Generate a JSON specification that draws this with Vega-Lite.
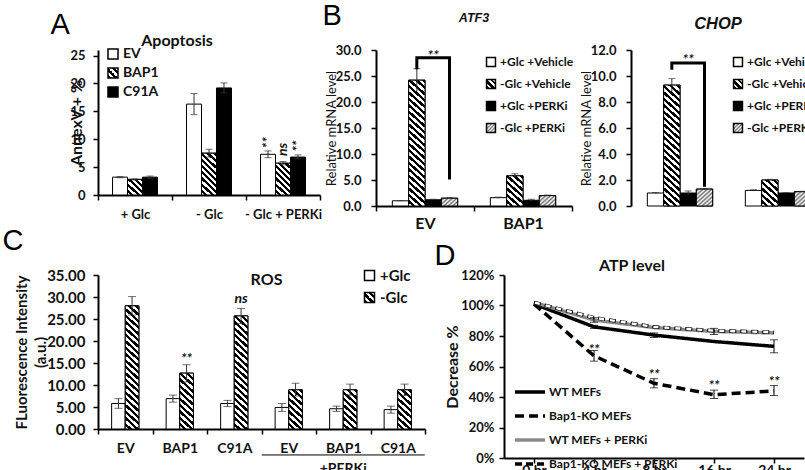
{
"$schema": "https://vega.github.io/schema/vega-lite/v6.json",
"background": "white",
"padding": {"left": 2, "top": 1, "right": 0, "bottom": 0},
"params": [
{"name": "hatch1", "value": [{"offset":0,"color":"#fff"},{"offset":0.02,"color":"#fff"},{"offset":0.02,"color":"#000"},{"offset":0.04,"color":"#000"},{"offset":0.04,"color":"#fff"},{"offset":0.06,"color":"#fff"},{"offset":0.06,"color":"#000"},{"offset":0.08,"color":"#000"},{"offset":0.08,"color":"#fff"},{"offset":0.1,"color":"#fff"},{"offset":0.1,"color":"#000"},{"offset":0.12,"color":"#000"},{"offset":0.12,"color":"#fff"},{"offset":0.14,"color":"#fff"},{"offset":0.14,"color":"#000"},{"offset":0.16,"color":"#000"},{"offset":0.16,"color":"#fff"},{"offset":0.18,"color":"#fff"},{"offset":0.18,"color":"#000"},{"offset":0.2,"color":"#000"},{"offset":0.2,"color":"#fff"},{"offset":0.22,"color":"#fff"},{"offset":0.22,"color":"#000"},{"offset":0.24,"color":"#000"},{"offset":0.24,"color":"#fff"},{"offset":0.26,"color":"#fff"},{"offset":0.26,"color":"#000"},{"offset":0.28,"color":"#000"},{"offset":0.28,"color":"#fff"},{"offset":0.3,"color":"#fff"},{"offset":0.3,"color":"#000"},{"offset":0.32,"color":"#000"},{"offset":0.32,"color":"#fff"},{"offset":0.34,"color":"#fff"},{"offset":0.34,"color":"#000"},{"offset":0.36,"color":"#000"},{"offset":0.36,"color":"#fff"},{"offset":0.38,"color":"#fff"},{"offset":0.38,"color":"#000"},{"offset":0.4,"color":"#000"},{"offset":0.4,"color":"#fff"},{"offset":0.42,"color":"#fff"},{"offset":0.42,"color":"#000"},{"offset":0.44,"color":"#000"},{"offset":0.44,"color":"#fff"},{"offset":0.46,"color":"#fff"},{"offset":0.46,"color":"#000"},{"offset":0.48,"color":"#000"},{"offset":0.48,"color":"#fff"},{"offset":0.5,"color":"#fff"},{"offset":0.5,"color":"#000"},{"offset":0.52,"color":"#000"},{"offset":0.52,"color":"#fff"},{"offset":0.54,"color":"#fff"},{"offset":0.54,"color":"#000"},{"offset":0.56,"color":"#000"},{"offset":0.56,"color":"#fff"},{"offset":0.58,"color":"#fff"},{"offset":0.58,"color":"#000"},{"offset":0.6,"color":"#000"},{"offset":0.6,"color":"#fff"},{"offset":0.62,"color":"#fff"},{"offset":0.62,"color":"#000"},{"offset":0.64,"color":"#000"},{"offset":0.64,"color":"#fff"},{"offset":0.66,"color":"#fff"},{"offset":0.66,"color":"#000"},{"offset":0.68,"color":"#000"},{"offset":0.68,"color":"#fff"},{"offset":0.7,"color":"#fff"},{"offset":0.7,"color":"#000"},{"offset":0.72,"color":"#000"},{"offset":0.72,"color":"#fff"},{"offset":0.74,"color":"#fff"},{"offset":0.74,"color":"#000"},{"offset":0.76,"color":"#000"},{"offset":0.76,"color":"#fff"},{"offset":0.78,"color":"#fff"},{"offset":0.78,"color":"#000"},{"offset":0.8,"color":"#000"},{"offset":0.8,"color":"#fff"},{"offset":0.82,"color":"#fff"},{"offset":0.82,"color":"#000"},{"offset":0.84,"color":"#000"},{"offset":0.84,"color":"#fff"},{"offset":0.86,"color":"#fff"},{"offset":0.86,"color":"#000"},{"offset":0.88,"color":"#000"},{"offset":0.88,"color":"#fff"},{"offset":0.9,"color":"#fff"},{"offset":0.9,"color":"#000"},{"offset":0.92,"color":"#000"},{"offset":0.92,"color":"#fff"},{"offset":0.94,"color":"#fff"},{"offset":0.94,"color":"#000"},{"offset":0.96,"color":"#000"},{"offset":0.96,"color":"#fff"},{"offset":0.98,"color":"#fff"},{"offset":0.98,"color":"#000"},{"offset":1,"color":"#000"}]},
{"name": "hatch2", "value": [{"offset":0,"color":"#fff"},{"offset":0.0125,"color":"#6e6e6e"},{"offset":0.025,"color":"#fff"},{"offset":0.0375,"color":"#6e6e6e"},{"offset":0.05,"color":"#fff"},{"offset":0.0625,"color":"#6e6e6e"},{"offset":0.075,"color":"#fff"},{"offset":0.0875,"color":"#6e6e6e"},{"offset":0.1,"color":"#fff"},{"offset":0.1125,"color":"#6e6e6e"},{"offset":0.125,"color":"#fff"},{"offset":0.1375,"color":"#6e6e6e"},{"offset":0.15,"color":"#fff"},{"offset":0.1625,"color":"#6e6e6e"},{"offset":0.175,"color":"#fff"},{"offset":0.1875,"color":"#6e6e6e"},{"offset":0.2,"color":"#fff"},{"offset":0.2125,"color":"#6e6e6e"},{"offset":0.225,"color":"#fff"},{"offset":0.2375,"color":"#6e6e6e"},{"offset":0.25,"color":"#fff"}]},
{"name": "lg1", "value": [{"offset":0,"color":"#000"},{"offset":0.17,"color":"#000"},{"offset":0.17,"color":"#fff"},{"offset":0.33,"color":"#fff"},{"offset":0.33,"color":"#000"},{"offset":0.5,"color":"#000"},{"offset":0.5,"color":"#fff"},{"offset":0.67,"color":"#fff"},{"offset":0.67,"color":"#000"},{"offset":0.83,"color":"#000"},{"offset":0.83,"color":"#fff"},{"offset":1,"color":"#fff"}]},
{"name": "lg2", "value": [{"offset":0,"color":"#fff"},{"offset":0.1,"color":"#777"},{"offset":0.2,"color":"#fff"},{"offset":0.3,"color":"#777"},{"offset":0.4,"color":"#fff"},{"offset":0.5,"color":"#777"},{"offset":0.6,"color":"#fff"},{"offset":0.7,"color":"#777"},{"offset":0.8,"color":"#fff"},{"offset":0.9,"color":"#777"},{"offset":1,"color":"#fff"}]}
],
"datasets": {
"apop": [
{"cond":"+ Glc","s":"EV","v":3.2,"lo":3.1,"hi":3.3},
{"cond":"+ Glc","s":"BAP1","v":2.8,"lo":2.7,"hi":2.9},
{"cond":"+ Glc","s":"C91A","v":3.2,"lo":3.0,"hi":3.4},
{"cond":"- Glc","s":"EV","v":16.3,"lo":14.4,"hi":18.2},
{"cond":"- Glc","s":"BAP1","v":7.5,"lo":6.8,"hi":8.2},
{"cond":"- Glc","s":"C91A","v":19.2,"lo":18.3,"hi":20.1},
{"cond":"- Glc + PERKi","s":"EV","v":7.3,"lo":6.7,"hi":7.9},
{"cond":"- Glc + PERKi","s":"BAP1","v":5.7,"lo":5.4,"hi":6.0},
{"cond":"- Glc + PERKi","s":"C91A","v":6.8,"lo":6.5,"hi":7.2}
],
"apopSig": [
{"cond":"- Glc + PERKi","s":"EV","y":8.4,"t":"**"},
{"cond":"- Glc + PERKi","s":"BAP1","y":7.0,"t":"ns"},
{"cond":"- Glc + PERKi","s":"C91A","y":7.8,"t":"**"}
],
"atf3": [
{"g":"EV","s":"+Glc +Vehicle","v":1.0,"lo":0.95,"hi":1.05},
{"g":"EV","s":"-Glc +Vehicle","v":24.2,"lo":22.0,"hi":26.4},
{"g":"EV","s":"+Glc +PERKi","v":1.2,"lo":1.1,"hi":1.3},
{"g":"EV","s":"-Glc +PERKi","v":1.5,"lo":1.4,"hi":1.6},
{"g":"BAP1","s":"+Glc +Vehicle","v":1.6,"lo":1.5,"hi":1.7},
{"g":"BAP1","s":"-Glc +Vehicle","v":5.8,"lo":5.4,"hi":6.2},
{"g":"BAP1","s":"+Glc +PERKi","v":1.1,"lo":0.9,"hi":1.3},
{"g":"BAP1","s":"-Glc +PERKi","v":2.0,"lo":1.9,"hi":2.1}
],
"atf3Br": [
{"g":"EV","s":"-Glc +Vehicle","y":26.6,"o":1},
{"g":"EV","s":"-Glc +Vehicle","y":28.5,"o":2},
{"g":"EV","s":"-Glc +PERKi","y":28.5,"o":3},
{"g":"EV","s":"-Glc +PERKi","y":5.4,"o":4}
],
"atf3Sig": [{"g":"EV","s":"+Glc +PERKi","y":28.9,"t":"**"}],
"chop": [
{"g":"EV","s":"+Glc +Vehicle","v":1.0,"lo":0.97,"hi":1.03},
{"g":"EV","s":"-Glc +Vehicle","v":9.3,"lo":8.8,"hi":9.8},
{"g":"EV","s":"+Glc +PERKi","v":1.0,"lo":0.85,"hi":1.15},
{"g":"EV","s":"-Glc +PERKi","v":1.3,"lo":1.25,"hi":1.35},
{"g":"BAP1","s":"+Glc +Vehicle","v":1.2,"lo":1.15,"hi":1.25},
{"g":"BAP1","s":"-Glc +Vehicle","v":2.0,"lo":1.95,"hi":2.05},
{"g":"BAP1","s":"+Glc +PERKi","v":1.0,"lo":0.97,"hi":1.03},
{"g":"BAP1","s":"-Glc +PERKi","v":1.1,"lo":1.07,"hi":1.13}
],
"chopBr": [
{"g":"EV","s":"-Glc +Vehicle","y":10.6,"o":1},
{"g":"EV","s":"-Glc +Vehicle","y":11.0,"o":2},
{"g":"EV","s":"-Glc +PERKi","y":11.0,"o":3},
{"g":"EV","s":"-Glc +PERKi","y":1.6,"o":4}
],
"chopSig": [{"g":"EV","s":"+Glc +PERKi","y":11.2,"t":"**"}],
"ros": [
{"grp":"EV","s":"+Glc","v":5.8,"lo":4.7,"hi":6.9},
{"grp":"EV","s":"-Glc","v":28.0,"lo":25.9,"hi":30.1},
{"grp":"BAP1","s":"+Glc","v":6.9,"lo":6.1,"hi":7.7},
{"grp":"BAP1","s":"-Glc","v":12.7,"lo":10.7,"hi":14.6},
{"grp":"C91A","s":"+Glc","v":5.8,"lo":5.1,"hi":6.5},
{"grp":"C91A","s":"-Glc","v":25.7,"lo":24.0,"hi":27.4},
{"grp":"EV+P","s":"+Glc","v":4.9,"lo":4.0,"hi":5.8},
{"grp":"EV+P","s":"-Glc","v":8.9,"lo":7.5,"hi":10.4},
{"grp":"BAP1+P","s":"+Glc","v":4.6,"lo":4.0,"hi":5.2},
{"grp":"BAP1+P","s":"-Glc","v":8.9,"lo":7.7,"hi":10.2},
{"grp":"C91A+P","s":"+Glc","v":4.4,"lo":3.6,"hi":5.2},
{"grp":"C91A+P","s":"-Glc","v":8.9,"lo":7.6,"hi":10.2}
],
"rosSig": [
{"grp":"BAP1","s":"-Glc","y":15.9,"t":"**"},
{"grp":"C91A","s":"-Glc","y":29.5,"t":"ns"}
],
"atp": [
{"h":0,"series":"WT MEFs","v":1.01},
{"h":4,"series":"WT MEFs","v":0.86,"lo":0.85,"hi":0.87},
{"h":8,"series":"WT MEFs","v":0.806,"lo":0.79,"hi":0.82},
{"h":16,"series":"WT MEFs","v":0.764},
{"h":24,"series":"WT MEFs","v":0.732,"lo":0.69,"hi":0.775},
{"h":0,"series":"Bap1-KO MEFs","v":1.01},
{"h":4,"series":"Bap1-KO MEFs","v":0.67,"lo":0.635,"hi":0.705},
{"h":8,"series":"Bap1-KO MEFs","v":0.49,"lo":0.46,"hi":0.52},
{"h":16,"series":"Bap1-KO MEFs","v":0.415,"lo":0.39,"hi":0.445},
{"h":24,"series":"Bap1-KO MEFs","v":0.44,"lo":0.41,"hi":0.475},
{"h":0,"series":"WT MEFs + PERKi","v":1.02},
{"h":4,"series":"WT MEFs + PERKi","v":0.905,"lo":0.89,"hi":0.92},
{"h":8,"series":"WT MEFs + PERKi","v":0.855},
{"h":16,"series":"WT MEFs + PERKi","v":0.83,"lo":0.81,"hi":0.85},
{"h":24,"series":"WT MEFs + PERKi","v":0.82},
{"h":0,"series":"Bap1-KO MEFs + PERKi","v":1.02},
{"h":4,"series":"Bap1-KO MEFs + PERKi","v":0.92},
{"h":8,"series":"Bap1-KO MEFs + PERKi","v":0.86},
{"h":16,"series":"Bap1-KO MEFs + PERKi","v":0.835},
{"h":24,"series":"Bap1-KO MEFs + PERKi","v":0.825}
],
"atpSig": [
{"h":4,"y":0.711,"t":"**"},
{"h":8,"y":0.546,"t":"**"},
{"h":16,"y":0.47,"t":"**"},
{"h":24,"y":0.50,"t":"**"}
]
},
"config": {
"view": {"stroke": null},
"font": "Lato",
"axis": {"domainColor": "#000", "domainWidth": 2, "tickColor": "#000", "tickWidth": 1.5, "tickSize": 5, "labelFont": "Lato", "labelFontWeight": "bold", "labelColor": "#111", "labelFontSize": 13, "titleFont": "Lato", "titleFontWeight": "bold", "titleColor": "#111", "grid": false, "labelPadding": 8, "labelOverlap": false},
"legend": {"labelFont": "Lato", "labelFontWeight": "bold", "labelColor": "#111", "padding": 0},
"title": {"font": "Lato", "fontWeight": "bold", "color": "#111"}
},
"columns": 1,
"align": "none",
"spacing": -5,
"resolve": {"scale": {"x": "independent", "y": "independent", "xOffset": "independent", "fill": "independent", "stroke": "independent", "strokeDash": "independent", "strokeWidth": "independent"}, "legend": {"fill": "independent", "stroke": "independent", "strokeDash": "independent", "strokeWidth": "independent"}},
"concat": [
{"spacing": 0,
"resolve": {"scale": {"x": "independent", "y": "independent", "xOffset": "independent", "fill": "independent", "stroke": "independent"}, "legend": {"fill": "independent", "stroke": "independent"}},
"hconcat": [
{
"width": 222, "height": 145,
"title": {"text": "Apoptosis", "frame": "group", "anchor": "middle", "dx": -32, "offset": -52, "fontSize": 16, "baseline": "alphabetic"},
"data": {"name": "apop"},
"layer": [
{"mark": {"type": "bar", "strokeWidth": 1},
 "encoding": {
  "x": {"field": "cond", "type": "nominal", "sort": ["+ Glc", "- Glc", "- Glc + PERKi"], "scale": {"paddingInner": 0, "paddingOuter": 0}, "axis": {"title": null, "labelAngle": 0, "tickBand": "extent", "labelFontSize": 13, "labelPadding": 8}},
  "xOffset": {"field": "s", "type": "nominal", "sort": ["EV", "BAP1", "C91A"], "scale": {"paddingInner": 0, "paddingOuter": 0.97}},
  "y": {"field": "v", "type": "quantitative", "scale": {"domain": [0, 25]}, "axis": {"title": "AnnexV + %", "values": [0, 5, 10, 15, 20, 25], "titleFontSize": 16, "titlePadding": -15}},
  "fill": {"field": "s", "type": "nominal", "scale": {"domain": ["EV", "BAP1", "C91A"], "range": ["#fff", {"expr": "{gradient:'linear',x1:0,y1:1,x2:1,y2:0,stops:lg1}"}, "#000"]},
   "legend": {"title": null, "orient": "none", "legendX": 8, "legendY": -3, "symbolType": "square", "symbolSize": 100, "labelFontSize": 14, "rowPadding": 3, "labelOffset": 3}},
  "stroke": {"field": "s", "type": "nominal", "scale": {"domain": ["EV", "BAP1", "C91A"], "range": ["#000", "#000", "#000"]},
   "legend": {"title": null, "orient": "none", "legendX": 8, "legendY": -3, "symbolType": "square", "symbolSize": 100, "labelFontSize": 14, "rowPadding": 3, "labelOffset": 3}}
 }},
{"transform": [{"filter": "datum.s == 'BAP1'"}],
 "mark": {"type": "bar", "stroke": "#000", "strokeWidth": 1, "fill": {"expr": "{gradient:'linear',x1:0,y1:1,x2:2400/(225+pow(datum.v*5.8,2)),y2:1-928*datum.v/(225+pow(datum.v*5.8,2)),stops:hatch1}"}},
 "encoding": {
  "x": {"field": "cond", "type": "nominal", "sort": ["+ Glc", "- Glc", "- Glc + PERKi"], "axis": null},
  "xOffset": {"field": "s", "type": "nominal", "sort": ["EV", "BAP1", "C91A"]},
  "y": {"field": "v", "type": "quantitative", "axis": {"title": "AnnexV + %", "values": [0, 5, 10, 15, 20, 25], "titleFontSize": 16, "titlePadding": -15}}
 }},
{"mark": {"type": "rule", "color": "#333", "strokeWidth": 1},
 "encoding": {
  "x": {"field": "cond", "type": "nominal", "sort": ["+ Glc", "- Glc", "- Glc + PERKi"], "axis": {"orient": "top", "title": "A", "labels": false, "ticks": false, "domain": false, "grid": false, "titleFont": "Liberation Sans", "titleFontSize": 29, "titleFontWeight": "normal", "titleColor": "#000", "titleAngle": 0, "titleAlign": "left", "titleBaseline": "alphabetic", "titleX": -48, "titleY": -17}},
  "xOffset": {"field": "s", "type": "nominal", "sort": ["EV", "BAP1", "C91A"]},
  "y": {"field": "lo", "type": "quantitative", "axis": {"title": "AnnexV + %", "values": [0, 5, 10, 15, 20, 25], "titleFontSize": 16, "titlePadding": -15}}, "y2": {"field": "hi"}
 }},
{"mark": {"type": "tick", "color": "#333", "thickness": 1, "size": 7},
 "encoding": {
  "x": {"field": "cond", "type": "nominal", "sort": ["+ Glc", "- Glc", "- Glc + PERKi"], "axis": null},
  "xOffset": {"field": "s", "type": "nominal", "sort": ["EV", "BAP1", "C91A"]},
  "y": {"field": "hi", "type": "quantitative", "axis": {"title": "AnnexV + %", "values": [0, 5, 10, 15, 20, 25], "titleFontSize": 16, "titlePadding": -15}}
 }},
{"mark": {"type": "tick", "color": "#333", "thickness": 1, "size": 7},
 "encoding": {
  "x": {"field": "cond", "type": "nominal", "sort": ["+ Glc", "- Glc", "- Glc + PERKi"], "axis": null},
  "xOffset": {"field": "s", "type": "nominal", "sort": ["EV", "BAP1", "C91A"]},
  "y": {"field": "lo", "type": "quantitative", "axis": {"title": "AnnexV + %", "values": [0, 5, 10, 15, 20, 25], "titleFontSize": 16, "titlePadding": -15}}
 }},
{"data": {"name": "apopSig"},
 "mark": {"type": "text", "angle": 270, "align": "left", "baseline": "middle", "fontStyle": "italic", "fontSize": 14, "font": "Lato", "fontWeight": "bold", "color": "#111"},
 "encoding": {
  "x": {"field": "cond", "type": "nominal", "sort": ["+ Glc", "- Glc", "- Glc + PERKi"], "axis": null},
  "xOffset": {"field": "s", "type": "nominal", "sort": ["EV", "BAP1", "C91A"]},
  "y": {"field": "y", "type": "quantitative", "axis": {"title": "AnnexV + %", "values": [0, 5, 10, 15, 20, 25], "titleFontSize": 16, "titlePadding": -15}},
  "text": {"field": "t"}
 }}
],
"resolve": {"axis": {"x": "independent"}}
},
{"spacing": 6,
"resolve": {"scale": {"x": "independent", "y": "independent", "xOffset": "independent", "fill": "independent", "stroke": "independent"}, "legend": {"fill": "independent", "stroke": "independent"}},
"hconcat": [
{
"width": 196, "height": 156,
"title": {"text": "ATF3", "frame": "group", "anchor": "middle", "dx": 0, "offset": -33, "fontSize": 12.5, "font": "Liberation Sans", "fontStyle": "italic", "baseline": "alphabetic"},
"data": {"name": "atf3"},
"layer": [
{"mark": {"type": "bar", "strokeWidth": 1},
 "encoding": {
  "x": {"field": "g", "type": "nominal", "sort": ["EV", "BAP1"], "scale": {"paddingInner": 0, "paddingOuter": 0}, "axis": {"title": null, "labelAngle": 0, "tickBand": "extent", "labelFontSize": 16, "labelPadding": 4}},
  "xOffset": {"field": "s", "type": "nominal", "sort": ["+Glc +Vehicle", "-Glc +Vehicle", "+Glc +PERKi", "-Glc +PERKi"], "scale": {"paddingInner": 0, "paddingOuter": 1.33}},
  "y": {"field": "v", "type": "quantitative", "scale": {"domain": [0, 30]}, "axis": {"title": "Relative mRNA level", "values": [0, 5, 10, 15, 20, 25, 30], "format": ".1f", "titleFontSize": 13, "titleFontWeight": "normal", "titlePadding": -3, "labelPadding": 10}},
  "fill": {"field": "s", "type": "nominal", "scale": {"domain": ["+Glc +Vehicle", "-Glc +Vehicle", "+Glc +PERKi", "-Glc +PERKi"], "range": ["#fff", {"expr": "{gradient:'linear',x1:0,y1:1,x2:1,y2:0,stops:lg1}"}, "#000", {"expr": "{gradient:'linear',x1:0,y1:0,x2:1,y2:1,stops:lg2}"}]},
   "legend": {"title": null, "orient": "none", "legendX": 109, "legendY": 6, "symbolType": "square", "symbolSize": 80, "labelFontSize": 12, "rowPadding": 6, "labelOffset": 3}},
  "stroke": {"field": "s", "type": "nominal", "scale": {"domain": ["+Glc +Vehicle", "-Glc +Vehicle", "+Glc +PERKi", "-Glc +PERKi"], "range": ["#000", "#000", "#000", "#000"]},
   "legend": {"title": null, "orient": "none", "legendX": 109, "legendY": 6, "symbolType": "square", "symbolSize": 80, "labelFontSize": 12, "rowPadding": 6, "labelOffset": 3}}
 }},
{"transform": [{"filter": "datum.s == '-Glc +Vehicle' || datum.s == '-Glc +PERKi'"}],
 "mark": {"type": "bar", "stroke": "#000", "strokeWidth": 1, "fill": {"expr": "datum.s == '-Glc +Vehicle' ? {gradient:'linear',x1:0,y1:1,x2:2352/(216+pow(datum.v*5.2,2)),y2:1-832*datum.v/(216+pow(datum.v*5.2,2)),stops:hatch1} : {gradient:'linear',x1:0,y1:0,x2:2352/(216+pow(datum.v*5.2,2)),y2:832*datum.v/(216+pow(datum.v*5.2,2)),stops:hatch2}"}},
 "encoding": {
  "x": {"field": "g", "type": "nominal", "sort": ["EV", "BAP1"], "axis": null},
  "xOffset": {"field": "s", "type": "nominal", "sort": ["+Glc +Vehicle", "-Glc +Vehicle", "+Glc +PERKi", "-Glc +PERKi"]},
  "y": {"field": "v", "type": "quantitative", "axis": {"title": "Relative mRNA level", "values": [0, 5, 10, 15, 20, 25, 30], "format": ".1f", "titleFontSize": 13, "titleFontWeight": "normal", "titlePadding": -3, "labelPadding": 10}}
 }},
{"mark": {"type": "rule", "color": "#333", "strokeWidth": 1},
 "encoding": {
  "x": {"field": "g", "type": "nominal", "sort": ["EV", "BAP1"], "axis": {"orient": "top", "title": "B", "labels": false, "ticks": false, "domain": false, "grid": false, "titleFont": "Liberation Sans", "titleFontSize": 29, "titleFontWeight": "normal", "titleColor": "#000", "titleAngle": 0, "titleAlign": "left", "titleBaseline": "alphabetic", "titleX": -54, "titleY": -26}},
  "xOffset": {"field": "s", "type": "nominal", "sort": ["+Glc +Vehicle", "-Glc +Vehicle", "+Glc +PERKi", "-Glc +PERKi"]},
  "y": {"field": "lo", "type": "quantitative", "axis": {"title": "Relative mRNA level", "values": [0, 5, 10, 15, 20, 25, 30], "format": ".1f", "titleFontSize": 13, "titleFontWeight": "normal", "titlePadding": -3, "labelPadding": 10}}, "y2": {"field": "hi"}
 }},
{"mark": {"type": "tick", "color": "#333", "thickness": 1, "size": 7},
 "encoding": {
  "x": {"field": "g", "type": "nominal", "sort": ["EV", "BAP1"], "axis": null},
  "xOffset": {"field": "s", "type": "nominal", "sort": ["+Glc +Vehicle", "-Glc +Vehicle", "+Glc +PERKi", "-Glc +PERKi"]},
  "y": {"field": "hi", "type": "quantitative", "axis": {"title": "Relative mRNA level", "values": [0, 5, 10, 15, 20, 25, 30], "format": ".1f", "titleFontSize": 13, "titleFontWeight": "normal", "titlePadding": -3, "labelPadding": 10}}
 }},
{"data": {"name": "atf3Br"},
 "mark": {"type": "line", "color": "#000", "strokeWidth": 3, "strokeCap": "square"},
 "encoding": {
  "x": {"field": "g", "type": "nominal", "sort": ["EV", "BAP1"], "axis": null},
  "xOffset": {"field": "s", "type": "nominal", "sort": ["+Glc +Vehicle", "-Glc +Vehicle", "+Glc +PERKi", "-Glc +PERKi"]},
  "y": {"field": "y", "type": "quantitative", "axis": {"title": "Relative mRNA level", "values": [0, 5, 10, 15, 20, 25, 30], "format": ".1f", "titleFontSize": 13, "titleFontWeight": "normal", "titlePadding": -3, "labelPadding": 10}},
  "order": {"field": "o"}
 }},
{"data": {"name": "atf3Sig"},
 "mark": {"type": "text", "baseline": "middle", "fontStyle": "italic", "fontSize": 14, "font": "Lato", "fontWeight": "bold", "color": "#111"},
 "encoding": {
  "x": {"field": "g", "type": "nominal", "sort": ["EV", "BAP1"], "axis": null},
  "xOffset": {"field": "s", "type": "nominal", "sort": ["+Glc +Vehicle", "-Glc +Vehicle", "+Glc +PERKi", "-Glc +PERKi"]},
  "y": {"field": "y", "type": "quantitative", "axis": {"title": "Relative mRNA level", "values": [0, 5, 10, 15, 20, 25, 30], "format": ".1f", "titleFontSize": 13, "titleFontWeight": "normal", "titlePadding": -3, "labelPadding": 10}},
  "text": {"field": "t"}
 }}
],
"resolve": {"axis": {"x": "independent"}}
},
{
"width": 196, "height": 156,
"title": {"text": "CHOP", "frame": "group", "anchor": "middle", "dx": -11, "offset": -1, "fontSize": 16.5, "font": "Liberation Sans", "fontStyle": "italic", "baseline": "alphabetic"},
"data": {"name": "chop"},
"layer": [
{"mark": {"type": "bar", "strokeWidth": 1},
 "encoding": {
  "x": {"field": "g", "type": "nominal", "sort": ["EV", "BAP1"], "scale": {"paddingInner": 0, "paddingOuter": 0}, "axis": {"title": null, "labelAngle": 0, "tickBand": "extent", "labelFontSize": 16, "labelPadding": 4}},
  "xOffset": {"field": "s", "type": "nominal", "sort": ["+Glc +Vehicle", "-Glc +Vehicle", "+Glc +PERKi", "-Glc +PERKi"], "scale": {"paddingInner": 0, "paddingOuter": 1.33}},
  "y": {"field": "v", "type": "quantitative", "scale": {"domain": [0, 12]}, "axis": {"title": "Relative mRNA level", "values": [0, 2, 4, 6, 8, 10, 12], "format": ".1f", "titleFontSize": 13, "titleFontWeight": "normal", "titlePadding": -3, "labelPadding": 10}},
  "fill": {"field": "s", "type": "nominal", "scale": {"domain": ["+Glc +Vehicle", "-Glc +Vehicle", "+Glc +PERKi", "-Glc +PERKi"], "range": ["#fff", {"expr": "{gradient:'linear',x1:0,y1:1,x2:1,y2:0,stops:lg1}"}, "#000", {"expr": "{gradient:'linear',x1:0,y1:0,x2:1,y2:1,stops:lg2}"}]},
   "legend": {"title": null, "orient": "none", "legendX": 101, "legendY": 6, "symbolType": "square", "symbolSize": 80, "labelFontSize": 12, "rowPadding": 6, "labelOffset": 3}},
  "stroke": {"field": "s", "type": "nominal", "scale": {"domain": ["+Glc +Vehicle", "-Glc +Vehicle", "+Glc +PERKi", "-Glc +PERKi"], "range": ["#000", "#000", "#000", "#000"]},
   "legend": {"title": null, "orient": "none", "legendX": 101, "legendY": 6, "symbolType": "square", "symbolSize": 80, "labelFontSize": 12, "rowPadding": 6, "labelOffset": 3}}
 }},
{"transform": [{"filter": "datum.s == '-Glc +Vehicle' || datum.s == '-Glc +PERKi'"}],
 "mark": {"type": "bar", "stroke": "#000", "strokeWidth": 1, "fill": {"expr": "datum.s == '-Glc +Vehicle' ? {gradient:'linear',x1:0,y1:1,x2:2352/(216+pow(datum.v*13,2)),y2:1-2080*datum.v/(216+pow(datum.v*13,2)),stops:hatch1} : {gradient:'linear',x1:0,y1:0,x2:2352/(216+pow(datum.v*13,2)),y2:2080*datum.v/(216+pow(datum.v*13,2)),stops:hatch2}"}},
 "encoding": {
  "x": {"field": "g", "type": "nominal", "sort": ["EV", "BAP1"], "axis": null},
  "xOffset": {"field": "s", "type": "nominal", "sort": ["+Glc +Vehicle", "-Glc +Vehicle", "+Glc +PERKi", "-Glc +PERKi"]},
  "y": {"field": "v", "type": "quantitative", "axis": {"title": "Relative mRNA level", "values": [0, 2, 4, 6, 8, 10, 12], "format": ".1f", "titleFontSize": 13, "titleFontWeight": "normal", "titlePadding": -3, "labelPadding": 10}}
 }},
{"mark": {"type": "rule", "color": "#333", "strokeWidth": 1},
 "encoding": {
  "x": {"field": "g", "type": "nominal", "sort": ["EV", "BAP1"], "axis": null},
  "xOffset": {"field": "s", "type": "nominal", "sort": ["+Glc +Vehicle", "-Glc +Vehicle", "+Glc +PERKi", "-Glc +PERKi"]},
  "y": {"field": "lo", "type": "quantitative", "axis": {"title": "Relative mRNA level", "values": [0, 2, 4, 6, 8, 10, 12], "format": ".1f", "titleFontSize": 13, "titleFontWeight": "normal", "titlePadding": -3, "labelPadding": 10}}, "y2": {"field": "hi"}
 }},
{"mark": {"type": "tick", "color": "#333", "thickness": 1, "size": 7},
 "encoding": {
  "x": {"field": "g", "type": "nominal", "sort": ["EV", "BAP1"], "axis": null},
  "xOffset": {"field": "s", "type": "nominal", "sort": ["+Glc +Vehicle", "-Glc +Vehicle", "+Glc +PERKi", "-Glc +PERKi"]},
  "y": {"field": "hi", "type": "quantitative", "axis": {"title": "Relative mRNA level", "values": [0, 2, 4, 6, 8, 10, 12], "format": ".1f", "titleFontSize": 13, "titleFontWeight": "normal", "titlePadding": -3, "labelPadding": 10}}
 }},
{"data": {"name": "chopBr"},
 "mark": {"type": "line", "color": "#000", "strokeWidth": 3, "strokeCap": "square"},
 "encoding": {
  "x": {"field": "g", "type": "nominal", "sort": ["EV", "BAP1"], "axis": null},
  "xOffset": {"field": "s", "type": "nominal", "sort": ["+Glc +Vehicle", "-Glc +Vehicle", "+Glc +PERKi", "-Glc +PERKi"]},
  "y": {"field": "y", "type": "quantitative", "axis": {"title": "Relative mRNA level", "values": [0, 2, 4, 6, 8, 10, 12], "format": ".1f", "titleFontSize": 13, "titleFontWeight": "normal", "titlePadding": -3, "labelPadding": 10}},
  "order": {"field": "o"}
 }},
{"data": {"name": "chopSig"},
 "mark": {"type": "text", "baseline": "middle", "fontStyle": "italic", "fontSize": 14, "font": "Lato", "fontWeight": "bold", "color": "#111"},
 "encoding": {
  "x": {"field": "g", "type": "nominal", "sort": ["EV", "BAP1"], "axis": null},
  "xOffset": {"field": "s", "type": "nominal", "sort": ["+Glc +Vehicle", "-Glc +Vehicle", "+Glc +PERKi", "-Glc +PERKi"]},
  "y": {"field": "y", "type": "quantitative", "axis": {"title": "Relative mRNA level", "values": [0, 2, 4, 6, 8, 10, 12], "format": ".1f", "titleFontSize": 13, "titleFontWeight": "normal", "titlePadding": -3, "labelPadding": 10}},
  "text": {"field": "t"}
 }}
]
}
]}
]},
{"spacing": 8,
"resolve": {"scale": {"x": "independent", "y": "independent", "xOffset": "independent", "fill": "independent", "stroke": "independent", "strokeDash": "independent", "strokeWidth": "independent"}, "legend": {"fill": "independent", "stroke": "independent", "strokeDash": "independent", "strokeWidth": "independent"}},
"hconcat": [
{
"width": 327, "height": 154,
"title": {"text": "ROS", "frame": "group", "anchor": "middle", "dx": 5, "offset": -75, "fontSize": 16, "baseline": "alphabetic"},
"data": {"name": "ros"},
"layer": [
{"mark": {"type": "bar", "strokeWidth": 1},
 "encoding": {
  "x": {"field": "grp", "type": "nominal", "sort": ["EV", "BAP1", "C91A", "EV+P", "BAP1+P", "C91A+P"], "scale": {"paddingInner": 0, "paddingOuter": 0}, "axis": {"title": null, "labelAngle": 0, "tickBand": "extent", "labelExpr": "replace(datum.label, '+P', '')", "labelFontSize": 14, "labelPadding": 7}},
  "xOffset": {"field": "s", "type": "nominal", "sort": ["+Glc", "-Glc"], "scale": {"paddingInner": 0, "paddingOuter": 1.18}},
  "y": {"field": "v", "type": "quantitative", "scale": {"domain": [0, 35]}, "axis": {"title": ["FLuorescence Intensity", "(a.u.)"], "values": [0, 5, 10, 15, 20, 25, 30, 35], "format": ".2f", "labelFontSize": 15, "labelPadding": 8, "titleFontSize": 15, "titleLineHeight": 19, "titlePadding": -2}},
  "fill": {"field": "s", "type": "nominal", "scale": {"domain": ["+Glc", "-Glc"], "range": ["#fff", {"expr": "{gradient:'linear',x1:0,y1:1,x2:1,y2:0,stops:lg1}"}]},
   "legend": {"title": null, "orient": "none", "legendX": 264, "legendY": -7, "symbolType": "square", "symbolSize": 100, "labelFontSize": 15, "rowPadding": 5, "labelOffset": 3}},
  "stroke": {"field": "s", "type": "nominal", "scale": {"domain": ["+Glc", "-Glc"], "range": ["#000", "#000"]},
   "legend": {"title": null, "orient": "none", "legendX": 264, "legendY": -7, "symbolType": "square", "symbolSize": 100, "labelFontSize": 15, "rowPadding": 5, "labelOffset": 3}}
 }},
{"transform": [{"filter": "datum.s == '-Glc'"}],
 "mark": {"type": "bar", "stroke": "#000", "strokeWidth": 1, "fill": {"expr": "{gradient:'linear',x1:0,y1:1,x2:2000/(156+pow(datum.v*4.4,2)),y2:1-704*datum.v/(156+pow(datum.v*4.4,2)),stops:hatch1}"}},
 "encoding": {
  "x": {"field": "grp", "type": "nominal", "sort": ["EV", "BAP1", "C91A", "EV+P", "BAP1+P", "C91A+P"], "axis": null},
  "xOffset": {"field": "s", "type": "nominal", "sort": ["+Glc", "-Glc"]},
  "y": {"field": "v", "type": "quantitative", "axis": {"title": ["FLuorescence Intensity", "(a.u.)"], "values": [0, 5, 10, 15, 20, 25, 30, 35], "format": ".2f", "labelFontSize": 15, "labelPadding": 8, "titleFontSize": 15, "titleLineHeight": 19, "titlePadding": -2}}
 }},
{"mark": {"type": "rule", "color": "#333", "strokeWidth": 1},
 "encoding": {
  "x": {"field": "grp", "type": "nominal", "sort": ["EV", "BAP1", "C91A", "EV+P", "BAP1+P", "C91A+P"], "axis": {"orient": "top", "title": "C", "labels": false, "ticks": false, "domain": false, "grid": false, "titleFont": "Liberation Sans", "titleFontSize": 29, "titleFontWeight": "normal", "titleColor": "#000", "titleAngle": 0, "titleAlign": "left", "titleBaseline": "alphabetic", "titleX": -96, "titleY": -26}},
  "xOffset": {"field": "s", "type": "nominal", "sort": ["+Glc", "-Glc"]},
  "y": {"field": "lo", "type": "quantitative", "axis": {"title": ["FLuorescence Intensity", "(a.u.)"], "values": [0, 5, 10, 15, 20, 25, 30, 35], "format": ".2f", "labelFontSize": 15, "labelPadding": 8, "titleFontSize": 15, "titleLineHeight": 19, "titlePadding": -2}}, "y2": {"field": "hi"}
 }},
{"mark": {"type": "tick", "color": "#333", "thickness": 1, "size": 8},
 "encoding": {
  "x": {"field": "grp", "type": "nominal", "sort": ["EV", "BAP1", "C91A", "EV+P", "BAP1+P", "C91A+P"], "axis": null},
  "xOffset": {"field": "s", "type": "nominal", "sort": ["+Glc", "-Glc"]},
  "y": {"field": "hi", "type": "quantitative", "axis": {"title": ["FLuorescence Intensity", "(a.u.)"], "values": [0, 5, 10, 15, 20, 25, 30, 35], "format": ".2f", "labelFontSize": 15, "labelPadding": 8, "titleFontSize": 15, "titleLineHeight": 19, "titlePadding": -2}}
 }},
{"mark": {"type": "tick", "color": "#333", "thickness": 1, "size": 8},
 "encoding": {
  "x": {"field": "grp", "type": "nominal", "sort": ["EV", "BAP1", "C91A", "EV+P", "BAP1+P", "C91A+P"], "axis": null},
  "xOffset": {"field": "s", "type": "nominal", "sort": ["+Glc", "-Glc"]},
  "y": {"field": "lo", "type": "quantitative", "axis": {"title": ["FLuorescence Intensity", "(a.u.)"], "values": [0, 5, 10, 15, 20, 25, 30, 35], "format": ".2f", "labelFontSize": 15, "labelPadding": 8, "titleFontSize": 15, "titleLineHeight": 19, "titlePadding": -2}}
 }},
{"data": {"name": "rosSig"},
 "mark": {"type": "text", "baseline": "middle", "fontStyle": "italic", "fontSize": 14, "font": "Lato", "fontWeight": "bold", "color": "#111"},
 "encoding": {
  "x": {"field": "grp", "type": "nominal", "sort": ["EV", "BAP1", "C91A", "EV+P", "BAP1+P", "C91A+P"], "axis": null},
  "xOffset": {"field": "s", "type": "nominal", "sort": ["+Glc", "-Glc"]},
  "y": {"field": "y", "type": "quantitative", "axis": {"title": ["FLuorescence Intensity", "(a.u.)"], "values": [0, 5, 10, 15, 20, 25, 30, 35], "format": ".2f", "labelFontSize": 15, "labelPadding": 8, "titleFontSize": 15, "titleLineHeight": 19, "titlePadding": -2}},
  "text": {"field": "t"}
 }},
{"data": {"values": [{"t": "+PERKi"}]},
 "mark": {"type": "rule", "color": "#000", "strokeWidth": 1, "xOffset": -27, "x2Offset": 27},
 "encoding": {
  "x": {"datum": "EV+P", "type": "nominal", "axis": null},
  "x2": {"datum": "C91A+P"},
  "y": {"datum": -5.9, "type": "quantitative", "axis": {"title": ["FLuorescence Intensity", "(a.u.)"], "values": [0, 5, 10, 15, 20, 25, 30, 35], "format": ".2f", "labelFontSize": 15, "labelPadding": 8, "titleFontSize": 15, "titleLineHeight": 19, "titlePadding": -2}}
 }},
{"data": {"values": [{"t": "+PERKi"}]},
 "mark": {"type": "text", "baseline": "middle", "fontSize": 14, "font": "Lato", "fontWeight": "bold", "color": "#111"},
 "encoding": {
  "x": {"datum": "BAP1+P", "type": "nominal", "axis": null},
  "y": {"datum": -9.1, "type": "quantitative", "axis": {"title": ["FLuorescence Intensity", "(a.u.)"], "values": [0, 5, 10, 15, 20, 25, 30, 35], "format": ".2f", "labelFontSize": 15, "labelPadding": 8, "titleFontSize": 15, "titleLineHeight": 19, "titlePadding": -2}},
  "text": {"field": "t"}
 }}
],
"resolve": {"axis": {"x": "independent"}}
},
{
"width": 300, "height": 183,
"title": {"text": "ATP level", "frame": "group", "anchor": "middle", "dx": -22, "offset": -46, "fontSize": 16, "baseline": "alphabetic"},
"data": {"name": "atp"},
"layer": [
{"mark": {"type": "line", "strokeCap": "butt", "strokeJoin": "miter"},
 "encoding": {
  "x": {"field": "h", "type": "ordinal", "scale": {"type": "point", "padding": 0.5}, "axis": {"title": null, "labelExpr": "datum.value + ' hr'", "labelFontSize": 14, "labelPadding": 0, "labelAngle": 0}},
  "y": {"field": "v", "type": "quantitative", "scale": {"domain": [0, 1.2]}, "axis": {"title": "Decrease %", "values": [0, 0.2, 0.4, 0.6, 0.8, 1, 1.2], "format": ".0%", "titleFontSize": 16, "titlePadding": 0, "labelPadding": 5}},
  "stroke": {"field": "series", "type": "nominal", "scale": {"domain": ["WT MEFs", "Bap1-KO MEFs", "WT MEFs + PERKi", "Bap1-KO MEFs + PERKi"], "range": ["#000", "#000", "#8a8a8a", "#000"]}, "legend": {"title": null, "orient": "none", "legendX": 9, "legendY": 100, "symbolType": "stroke", "symbolSize": 900, "labelFontSize": 12, "rowPadding": -12.5, "labelOffset": 2}},
  "strokeDash": {"field": "series", "type": "nominal", "scale": {"domain": ["WT MEFs", "Bap1-KO MEFs", "WT MEFs + PERKi", "Bap1-KO MEFs + PERKi"], "range": [[1, 0], [9, 5], [1, 0], [7, 4]]}, "legend": {"title": null, "orient": "none", "legendX": 9, "legendY": 100, "symbolType": "stroke", "symbolSize": 900, "labelFontSize": 12, "rowPadding": -12.5, "labelOffset": 2}},
  "strokeWidth": {"field": "series", "type": "nominal", "scale": {"domain": ["WT MEFs", "Bap1-KO MEFs", "WT MEFs + PERKi", "Bap1-KO MEFs + PERKi"], "range": [3.5, 3.5, 2, 5]}, "legend": {"title": null, "orient": "none", "legendX": 9, "legendY": 100, "symbolType": "stroke", "symbolSize": 900, "labelFontSize": 12, "rowPadding": -12.5, "labelOffset": 2}}
 }},
{"transform": [{"filter": "datum.series == 'Bap1-KO MEFs + PERKi'"}],
 "mark": {"type": "line", "stroke": "#fff", "strokeWidth": 2.4, "strokeDash": [5, 6], "strokeDashOffset": -1, "strokeCap": "butt"},
 "encoding": {
  "x": {"field": "h", "type": "ordinal", "axis": null},
  "y": {"field": "v", "type": "quantitative", "axis": {"title": "Decrease %", "values": [0, 0.2, 0.4, 0.6, 0.8, 1, 1.2], "format": ".0%", "titleFontSize": 16, "titlePadding": 0, "labelPadding": 5}}
 }},
{"transform": [{"filter": "isValid(datum.lo)"}],
 "mark": {"type": "rule", "color": "#000", "strokeWidth": 1},
 "encoding": {
  "x": {"field": "h", "type": "ordinal", "axis": {"orient": "top", "title": "D", "labels": false, "ticks": false, "domain": false, "grid": false, "titleFont": "Liberation Sans", "titleFontSize": 29, "titleFontWeight": "normal", "titleColor": "#000", "titleAngle": 0, "titleAlign": "left", "titleBaseline": "alphabetic", "titleX": -70, "titleY": -11}},
  "y": {"field": "lo", "type": "quantitative", "axis": {"title": "Decrease %", "values": [0, 0.2, 0.4, 0.6, 0.8, 1, 1.2], "format": ".0%", "titleFontSize": 16, "titlePadding": 0, "labelPadding": 5}}, "y2": {"field": "hi"}
 }},
{"transform": [{"filter": "isValid(datum.lo)"}],
 "mark": {"type": "tick", "color": "#000", "thickness": 1, "size": 8},
 "encoding": {
  "x": {"field": "h", "type": "ordinal", "axis": null},
  "y": {"field": "hi", "type": "quantitative", "axis": {"title": "Decrease %", "values": [0, 0.2, 0.4, 0.6, 0.8, 1, 1.2], "format": ".0%", "titleFontSize": 16, "titlePadding": 0, "labelPadding": 5}}
 }},
{"transform": [{"filter": "isValid(datum.lo)"}],
 "mark": {"type": "tick", "color": "#000", "thickness": 1, "size": 8},
 "encoding": {
  "x": {"field": "h", "type": "ordinal", "axis": null},
  "y": {"field": "lo", "type": "quantitative", "axis": {"title": "Decrease %", "values": [0, 0.2, 0.4, 0.6, 0.8, 1, 1.2], "format": ".0%", "titleFontSize": 16, "titlePadding": 0, "labelPadding": 5}}
 }},
{"data": {"name": "atpSig"},
 "mark": {"type": "text", "baseline": "middle", "fontStyle": "italic", "fontSize": 14, "font": "Lato", "fontWeight": "bold", "color": "#111"},
 "encoding": {
  "x": {"field": "h", "type": "ordinal", "axis": null},
  "y": {"field": "y", "type": "quantitative", "axis": {"title": "Decrease %", "values": [0, 0.2, 0.4, 0.6, 0.8, 1, 1.2], "format": ".0%", "titleFontSize": 16, "titlePadding": 0, "labelPadding": 5}},
  "text": {"field": "t"}
 }}
],
"resolve": {"axis": {"x": "independent"}}
}
]}
]
}
